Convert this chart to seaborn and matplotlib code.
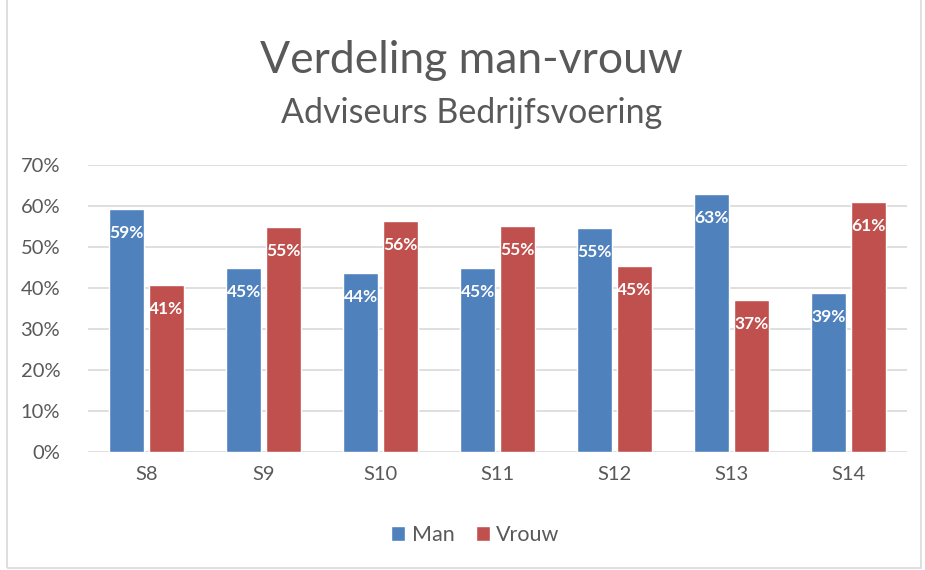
import pandas as pd
import seaborn as sns
import matplotlib.pyplot as plt
from matplotlib.patches import Rectangle
from matplotlib.ticker import PercentFormatter

# ---------------------------------------------------
# Data
# ---------------------------------------------------
schalen = ["S8", "S9", "S10", "S11", "S12", "S13", "S14"]
man = [0.593, 0.450, 0.436, 0.448, 0.546, 0.629, 0.389]
vrouw = [0.407, 0.550, 0.564, 0.552, 0.454, 0.371, 0.611]
series = ["Man", "Vrouw"]
colors = ["#4F81BD", "#C0504D"]
y_ticks = [0, 0.1, 0.2, 0.3, 0.4, 0.5, 0.6, 0.7]

df = pd.DataFrame({
    "schaal": schalen * 2,
    "geslacht": [series[0]] * len(schalen) + [series[1]] * len(schalen),
    "aandeel": man + vrouw,
})

sns.set_theme(style="white")
plt.rcParams["font.family"] = ["Lato", "DejaVu Sans"]
text_grey = "#595959"

fig = plt.figure(figsize=(9.25, 5.7), dpi=100)
ax = fig.add_axes([0.0951, 0.207, 0.8854, 0.5035])

sns.barplot(
    data=df,
    x="schaal",
    y="aandeel",
    hue="geslacht",
    order=schalen,
    hue_order=series,
    palette=colors,
    width=0.675,
    gap=0.11,
    saturation=1,
    errorbar=None,
    legend=True,
    ax=ax,
)

ax.set_xlim(-0.5, len(schalen) - 0.5)
ax.set_ylim(0, 0.7)
ax.set_yticks(y_ticks)
ax.yaxis.set_major_formatter(PercentFormatter(1.0, decimals=0))
ax.set_xlabel("")
ax.set_ylabel("")
ax.tick_params(axis="both", length=0, labelsize=14.5, labelcolor=text_grey)
ax.tick_params(axis="y", pad=20)
ax.tick_params(axis="x", pad=10)
for spine in ax.spines.values():
    spine.set_visible(False)
ax.grid(axis="y", color="#D9D9D9", linewidth=1.2)
ax.set_axisbelow(True)

# data labels, inside end
for container in ax.containers:
    for bar in container:
        h = bar.get_height()
        ax.annotate(
            f"{h:.0%}",
            (bar.get_x() + bar.get_width() / 2, h),
            xytext=(0, -24),
            textcoords="offset pixels",
            ha="center",
            va="center",
            color="white",
            fontsize=12.5,
            fontweight="bold",
        )

# legend at the bottom
handles, labels = ax.get_legend_handles_labels()
ax.get_legend().remove()
fig.legend(
    handles,
    labels,
    loc="center",
    bbox_to_anchor=(0.514, 0.061),
    ncol=2,
    frameon=False,
    fontsize=15.5,
    labelcolor=text_grey,
    handlelength=0.65,
    handleheight=0.65,
    handletextpad=0.3,
    columnspacing=1.0,
)

# titles
fig.text(0.51, 0.893, "Verdeling man-vrouw", ha="center", va="center",
         fontsize=32, color=text_grey)
fig.text(0.51, 0.802, "Adviseurs Bedrijfsvoering", ha="center", va="center",
         fontsize=24.5, color=text_grey)

# chart frame
fig.patches.append(Rectangle((0.008, 0.004), 0.988, 1.2, transform=fig.transFigure,
                             fill=False, edgecolor="#D9D9D9", linewidth=1.2))

fig.savefig("out.png", dpi=100)
